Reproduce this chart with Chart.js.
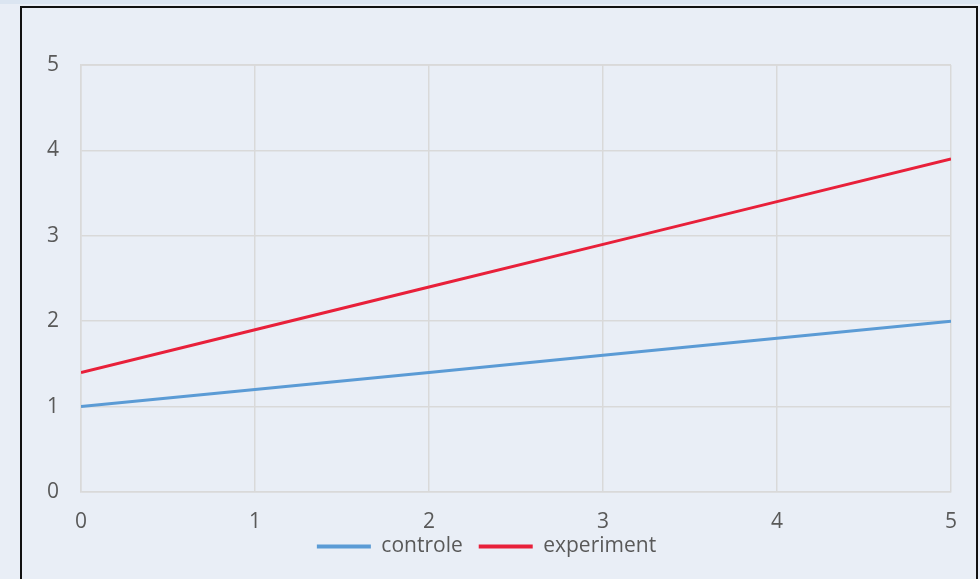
<!DOCTYPE html>
<html>
<head>
<meta charset="utf-8">
<script src="https://cdn.jsdelivr.net/npm/chart.js@4/dist/chart.umd.min.js"></script>
<style>
  html, body { margin: 0; padding: 0; background: #e9eef6; overflow: hidden; }
  .strip { position: absolute; left: 0; top: 0; width: 980px; height: 4px; background: #dbe5f1; }
  .frame { position: absolute; left: 20px; top: 6px; width: 954px; height: 600px;
           border: 2px solid #111; background: #e9eef6; }
  canvas { display: block; }
</style>
</head>
<body>
<div class="strip"></div>
<div class="frame">
  <canvas id="chart" width="954" height="571"></canvas>
</div>
<script>
const xValues = [0, 1, 2, 3, 4, 5];
const controle = [1.0, 1.2, 1.4, 1.6, 1.8, 2.0];
const experiment = [1.4, 1.9, 2.4, 2.9, 3.4, 3.9];
const yTicks = [0, 1, 2, 3, 4, 5];

const toPoints = (ys) => xValues.map((x, i) => ({ x: x, y: ys[i] }));
const font = { family: "'Open Sans', sans-serif", size: 21 };
const gridColor = "#d9d9d9";

new Chart(document.getElementById("chart"), {
    type: "line",
    data: {
        datasets: [
            {
                label: "controle",
                data: toPoints(controle),
                borderColor: "#5b9bd5",
                backgroundColor: "#5b9bd5",
                borderWidth: 3,
                pointRadius: 0,
                tension: 0,
            },
            {
                label: "experiment",
                data: toPoints(experiment),
                borderColor: "#e8203a",
                backgroundColor: "#e8203a",
                borderWidth: 3,
                pointRadius: 0,
                tension: 0,
            },
        ],
    },
    options: {
        responsive: false,
        animation: false,
        layout: { padding: { top: 57, right: 25, left: 0, bottom: 12 } },
        plugins: {
            tooltip: { enabled: false },
            legend: {
                position: "bottom",
                labels: {
                    font: font,
                    color: "#595959",
                    boxWidth: 54,
                    boxHeight: 4,
                    padding: 16,
                    generateLabels: (chart) =>
                        Chart.defaults.plugins.legend.labels.generateLabels(chart)
                            .map((item) => ({ ...item, lineWidth: 0 })),
                },
            },
        },
        scales: {
            x: {
                type: "linear",
                min: 0,
                max: 5,
                ticks: { stepSize: 1, font: font, color: "#595959", padding: 17 },
                grid: { color: gridColor, lineWidth: 1.5, drawTicks: false },
                border: { color: gridColor, width: 1.5 },
                afterFit: (axis) => {
                    axis.height = 28;
                    // let tick labels run below the (short) axis box
                    axis._computeLabelArea = () => null;
                },
            },
            y: {
                min: 0,
                max: 5,
                afterBuildTicks: (axis) => { axis.ticks = yTicks.map((v) => ({ value: v })); },
                ticks: { font: font, color: "#595959", padding: 22 },
                grid: { color: gridColor, lineWidth: 1.5, drawTicks: false },
                border: { color: gridColor, width: 1.5 },
                afterFit: (axis) => { axis.width = 59; },
            },
        },
    },
    plugins: [{
        id: "plotBorder",
        afterDraw(chart) {
            const { ctx, chartArea: a } = chart;
            ctx.save();
            ctx.strokeStyle = gridColor;
            ctx.lineWidth = 1.5;
            ctx.beginPath();
            ctx.moveTo(a.left, a.top);
            ctx.lineTo(a.right, a.top);
            ctx.stroke();
            ctx.restore();
        },
    }],
});
</script>
</body>
</html>
